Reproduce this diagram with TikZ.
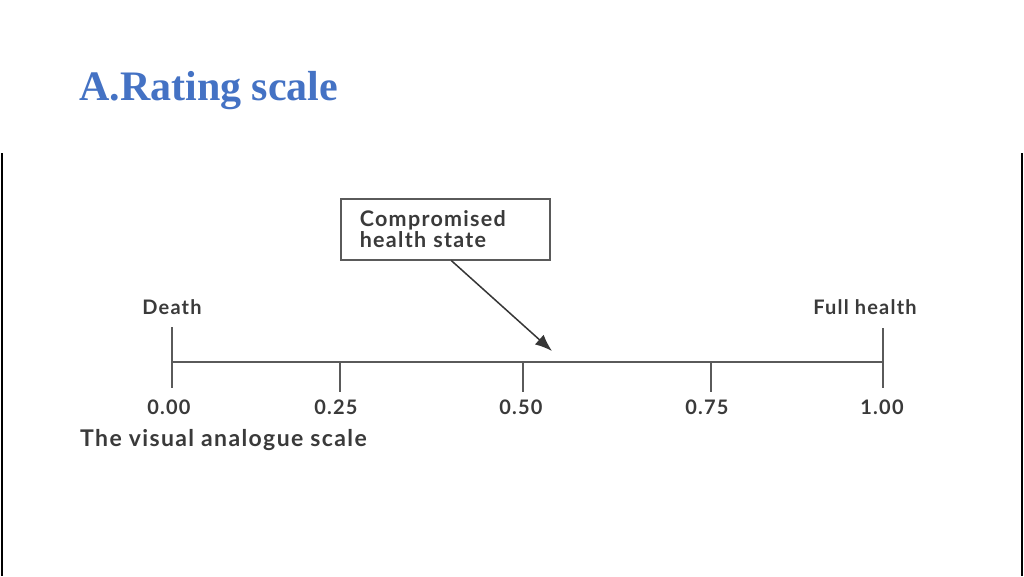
\documentclass[tikz,border=0pt]{standalone}
\usepackage{fontspec}
\setmainfont{Liberation Serif}
\newfontfamily\scalefont[LetterSpace=6]{Lato}
\usetikzlibrary{arrows.meta,positioning,calc}
\definecolor{titleblue}{HTML}{4472C4}
\definecolor{scalegray}{HTML}{5A5A5A}
\definecolor{textgray}{HTML}{3A3A3A}
\tikzset{>=latex}
\tikzset{
  scaleline/.style={draw=scalegray, line width=2pt},
  ticklabel/.style={font=\scalefont\bfseries\fontsize{20}{24}\selectfont, text=textgray, inner sep=0pt}
}

\begin{document}
\begin{tikzpicture}[x=1pt, y=-1pt]
		\useasboundingbox[fill=white] (0,0) rectangle (1024,576);
		\node[anchor=base west, text=titleblue, font=\fontsize{42}{48}\selectfont\bfseries, inner sep=0pt] (title) at (79,100) {A.Rating scale};
		
		% frame sides
		\draw[line width=1.8pt] (2,153) -- (2,576);
		\draw[line width=1.8pt] (1022,153) -- (1022,576);
		
		% scale
		\coordinate (t0)   at (172,362);
		\coordinate (t25)  at (340,362);
		\coordinate (t50)  at (523,362);
		\coordinate (t75)  at (711,362);
		\coordinate (t100) at (883,362);
		
		\draw[scaleline] (t0) -- (t100);
		\draw[scaleline] ([yshift=35pt]t0) -- ([yshift=-26pt]t0);
		\draw[scaleline] ([yshift=34pt]t100) -- ([yshift=-26pt]t100);
		\foreach \t in {t25,t50,t75}
			\draw[scaleline] (\t) -- ([yshift=-30pt]\t);
		
		\node[ticklabel, below=38pt of t0, xshift=-3pt]   (l0)   {0.00};
		\node[ticklabel, below=38pt of t25, xshift=-4pt]  (l25)  {0.25};
		\node[ticklabel, below=38pt of t50, xshift=-2pt]  (l50)  {0.50};
		\node[ticklabel, below=38pt of t75, xshift=-4pt]  (l75)  {0.75};
		\node[ticklabel, below=38pt of t100, xshift=-1pt] (l100) {1.00};
		
		\node[ticklabel, above=47pt of t0]                 (death) {Death};
		\node[ticklabel, above=47pt of t100, xshift=-18pt] (full)  {Full health};
		\node[ticklabel, anchor=west, font=\scalefont\bfseries\fontsize{23}{27}\selectfont] (vas) at (80,440) {The visual analogue scale};
		
		% compromised state
		\node[ticklabel, font=\scalefont\bfseries\fontsize{21.5}{21}\selectfont, draw=scalegray, line width=1.5pt,
		      align=left, anchor=north west, minimum width=209pt, minimum height=61pt, inner xsep=19pt,
		      text width=171pt] (state) at (340,198)
		      {Compromised\\health state};
		\coordinate (tip) at (552,351);
		\draw[scalegray!60!black, line width=1.5pt, -{Latex[length=17pt,width=13pt]}] ([xshift=6pt]state.south) -- (tip);
	\end{tikzpicture}
\end{document}
